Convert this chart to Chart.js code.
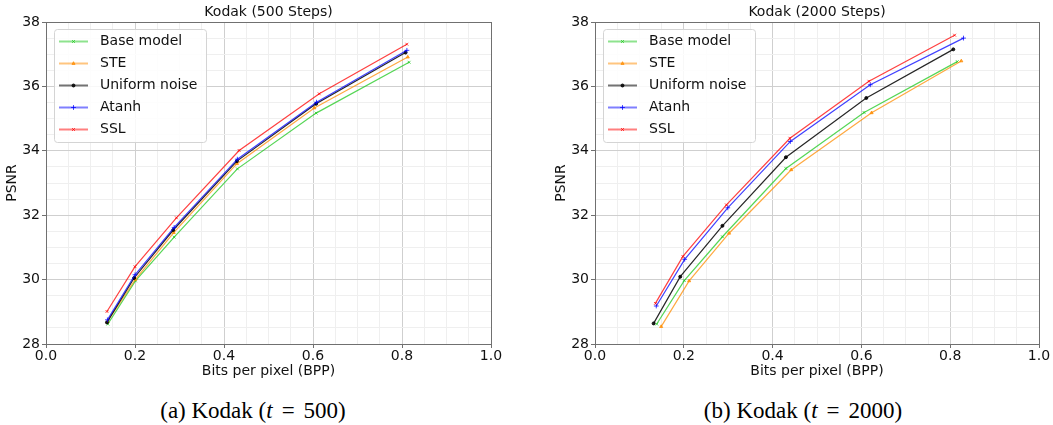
<!DOCTYPE html>
<html>
<head>
<meta charset="utf-8">
<script src="https://cdn.jsdelivr.net/npm/chart.js@4/dist/chart.umd.min.js"></script>
<style>
  html, body { margin: 0; padding: 0; background: #fff; }
  body { width: 1053px; height: 425px; position: relative; overflow: hidden; }
  canvas { position: absolute; top: 0; }
  #kodak500 { left: 0; }
  #kodak2000 { left: 549px; }
  .caption {
    position: absolute; top: 398px; width: 300px; text-align: center;
    font-family: 'Liberation Serif', 'Times New Roman', serif; font-size: 23px; color: #000;
    white-space: nowrap;
  }
  .caption .eq { margin: 0 9px; }
</style>
</head>
<body>
<canvas id="kodak500" width="520" height="382"></canvas>
<canvas id="kodak2000" width="504" height="382"></canvas>
<div class="caption" style="left:103px">(a) Kodak (<i>t</i><span class="eq">=</span>500)</div>
<div class="caption" style="left:653px">(b) Kodak (<i>t</i><span class="eq">=</span>2000)</div>
<script>
// series names, same order in both panels
const seriesNames = ['Base model', 'STE', 'Uniform noise', 'Atanh', 'SSL'];

// Kodak, 500 steps
const bpp500Base    = [0.139, 0.201, 0.288, 0.430, 0.607, 0.816];
const psnr500Base   = [28.62, 29.96, 31.32, 33.44, 35.17, 36.75];
const bpp500Ste     = [0.138, 0.201, 0.287, 0.429, 0.603, 0.813];
const psnr500Ste    = [28.69, 30.01, 31.46, 33.60, 35.33, 36.91];
const bpp500Uniform = [0.137, 0.198, 0.286, 0.429, 0.607, 0.808];
const psnr500Uniform= [28.67, 30.05, 31.54, 33.68, 35.46, 37.05];
const bpp500Atanh   = [0.138, 0.200, 0.288, 0.430, 0.608, 0.811];
const psnr500Atanh  = [28.75, 30.15, 31.62, 33.74, 35.51, 37.12];
const bpp500Ssl     = [0.137, 0.200, 0.293, 0.434, 0.614, 0.811];
const psnr500Ssl    = [29.01, 30.40, 31.92, 34.01, 35.77, 37.31];

// Kodak, 2000 steps
const bpp2000Base    = [0.139, 0.201, 0.287, 0.430, 0.606, 0.816];
const psnr2000Base   = [28.62, 29.97, 31.33, 33.45, 35.19, 36.77];
const bpp2000Ste     = [0.149, 0.212, 0.302, 0.442, 0.623, 0.825];
const psnr2000Ste    = [28.54, 29.96, 31.44, 33.41, 35.18, 36.79];
const bpp2000Uniform = [0.132, 0.192, 0.287, 0.430, 0.611, 0.807];
const psnr2000Uniform= [28.64, 30.09, 31.67, 33.80, 35.64, 37.15];
const bpp2000Atanh   = [0.138, 0.202, 0.299, 0.440, 0.620, 0.830];
const psnr2000Atanh  = [29.18, 30.63, 32.23, 34.29, 36.05, 37.50];
const bpp2000Ssl     = [0.136, 0.198, 0.296, 0.439, 0.617, 0.810];
const psnr2000Ssl    = [29.26, 30.72, 32.32, 34.39, 36.16, 37.59];

// line look per series (matplotlib-ish)
const lineColors   = ['rgba(30,200,30,0.75)', 'rgba(255,140,0,0.75)', 'rgba(0,0,0,0.85)', 'rgba(0,0,255,0.75)', 'rgba(255,0,0,0.75)'];
const legendColors = ['rgba(30,200,30,0.5)', 'rgba(255,140,0,0.5)', 'rgba(0,0,0,0.55)', 'rgba(0,0,255,0.5)', 'rgba(255,0,0,0.5)'];
const markers      = ['crossRot', 'triangle', 'circle', 'cross', 'crossRot'];
const markerSizes  = [2, 1.8, 1.5, 2.4, 2];

Chart.defaults.font.family = "'DejaVu Sans', sans-serif";
Chart.defaults.color = '#111';

const isMajor = (v, step) => Math.abs(v / step - Math.round(v / step)) < 1e-6;

// frame on all four sides, title over the plot area, legend inside it
const deco = {
  id: 'deco',
  afterDraw(chart, args, opts) {
    const { ctx, chartArea: a } = chart;
    ctx.save();
    ctx.strokeStyle = '#707070';
    ctx.lineWidth = 1;
    ctx.strokeRect(Math.round(a.left) + 0.5, Math.round(a.top) + 0.5,
                   Math.round(a.right - a.left), Math.round(a.bottom - a.top));

    ctx.fillStyle = '#111';
    ctx.font = "14px 'DejaVu Sans'";
    ctx.textAlign = 'center';
    ctx.textBaseline = 'middle';
    ctx.fillText(opts.title, (a.left + a.right) / 2, 12);

    const x0 = Math.round(a.left) + 8, y0 = Math.round(a.top) + 7;
    ctx.beginPath();
    ctx.roundRect(x0 + 0.5, y0 + 0.5, 152, 113, 3);
    ctx.fillStyle = 'rgba(255,255,255,0.85)';
    ctx.fill();
    ctx.strokeStyle = '#d4d4d4';
    ctx.stroke();
    chart.data.datasets.forEach((ds, i) => {
      const y = y0 + 12.5 + i * 22;
      ctx.strokeStyle = legendColors[i];
      ctx.lineWidth = 2;
      ctx.beginPath();
      ctx.moveTo(x0 + 5, y);
      ctx.lineTo(x0 + 34, y);
      ctx.stroke();
      ctx.strokeStyle = ds.borderColor;
      ctx.fillStyle = ds.borderColor;
      ctx.lineWidth = 1;
      Chart.helpers.drawPoint(ctx, { pointStyle: markers[i], radius: markerSizes[i], borderWidth: 1, rotation: 0 }, x0 + 19.5, y);
      ctx.fillStyle = '#111';
      ctx.font = "14px 'DejaVu Sans'";
      ctx.textAlign = 'left';
      ctx.fillText(ds.label, x0 + 46, y);
    });
    ctx.restore();
  }
};

function makeChart(id, title, bppLists, psnrLists, padRight) {
  const datasets = seriesNames.map((name, i) => ({
    label: name,
    data: bppLists[i].map((b, k) => ({ x: b, y: psnrLists[i][k] })),
    borderColor: lineColors[i],
    backgroundColor: lineColors[i],
    borderWidth: 1.2,
    pointStyle: markers[i],
    pointRadius: markerSizes[i],
    pointBorderWidth: 1,
    showLine: true,
    tension: 0,
    order: seriesNames.length - i
  }));

  return new Chart(document.getElementById(id), {
    type: 'scatter',
    data: { datasets },
    plugins: [deco],
    options: {
      responsive: false,
      animation: false,
      layout: { padding: { left: 0, right: padRight, top: 22, bottom: 0 } },
      plugins: {
        legend: { display: false },
        tooltip: { enabled: false },
        deco: { title }
      },
      scales: {
        x: {
          type: 'linear', min: 0, max: 1,
          afterFit: s => { s.height = 38; },
          border: { display: false },
          grid: {
            color: c => isMajor(c.tick.value, 0.2) ? '#cfcfcf' : '#efefef',
            tickColor: c => isMajor(c.tick.value, 0.2) ? '#707070' : 'rgba(0,0,0,0)',
            tickLength: 4
          },
          ticks: {
            stepSize: 0.05, autoSkip: false, maxRotation: 0, minRotation: 0, padding: 0,
            font: { size: 14 }, color: '#111',
            callback: v => isMajor(v, 0.2) ? v.toFixed(1) : ''
          },
          title: { display: true, text: 'Bits per pixel (BPP)', font: { size: 14 }, color: '#111', padding: { top: 0, bottom: 2 } }
        },
        y: {
          min: 28, max: 38,
          afterFit: s => { s.width = 46; },
          border: { display: false },
          grid: {
            color: c => isMajor(c.tick.value, 2) ? '#cfcfcf' : '#efefef',
            tickColor: c => isMajor(c.tick.value, 2) ? '#707070' : 'rgba(0,0,0,0)',
            tickLength: 4
          },
          ticks: {
            stepSize: 0.5, autoSkip: false, padding: 2,
            font: { size: 14 }, color: '#111',
            callback: v => isMajor(v, 2) ? String(v) : ''
          },
          title: { display: true, text: 'PSNR', font: { size: 14 }, color: '#111', padding: { top: 4, bottom: 0 } }
        }
      }
    }
  });
}

makeChart('kodak500', 'Kodak (500 Steps)',
  [bpp500Base, bpp500Ste, bpp500Uniform, bpp500Atanh, bpp500Ssl],
  [psnr500Base, psnr500Ste, psnr500Uniform, psnr500Atanh, psnr500Ssl], 29);

makeChart('kodak2000', 'Kodak (2000 Steps)',
  [bpp2000Base, bpp2000Ste, bpp2000Uniform, bpp2000Atanh, bpp2000Ssl],
  [psnr2000Base, psnr2000Ste, psnr2000Uniform, psnr2000Atanh, psnr2000Ssl], 14);
</script>
</body>
</html>
